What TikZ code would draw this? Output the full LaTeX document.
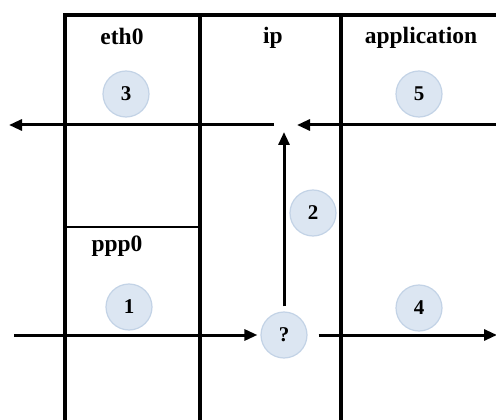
\documentclass[tikz,border=0pt]{standalone}
\usepackage{fontspec}
\setmainfont{Liberation Serif}
\usetikzlibrary{arrows.meta}
\definecolor{cfill}{HTML}{DCE6F2}
\definecolor{cline}{HTML}{C3D3E6}
\tikzset{
  frame/.style={line width=3.8pt},
  sep/.style={line width=2.2pt},
  arr/.style={line width=3pt,-{Triangle[length=13pt,width=11pt]}},
  num/.style={circle,fill=cfill,draw=cline,line width=1.2pt,minimum size=46pt,inner sep=0pt,font=\bfseries\fontsize{21}{23}\selectfont},
  lbl/.style={font=\bfseries\fontsize{23.5}{26}\selectfont,inner sep=0pt}
}
\begin{document}
\begin{tikzpicture}[x=1pt,y=-1pt]
\useasboundingbox (0,0) rectangle (496,420);
% frame
\draw[frame] (65,420) -- (65,15) -- (496,15);
\draw[frame] (200,15) -- (200,420);
\draw[frame] (341,15) -- (341,420);
\draw[sep] (65,227) -- (200,227);
% labels
\node[lbl] (leth) at (122,36) {eth0};
\node[lbl] (lip) at (273,38) {ip};
\node[lbl] (lapp) at (421,38) {application};
\node[lbl] (lppp) at (117,246) {ppp0};
% circles
\node[num] (c3) at (126,94) {3};
\node[num] (c5) at (419,94) {5};
\node[num] (c1) at (129,307) {1};
\node[num] (c4) at (419,308) {4};
\node[num] (c2) at (313,213) {2};
\node[num] (cq) at (284,335) {?};
% coordinates
\coordinate (j) at (284,125);
\coordinate (inL) at (14,335);
\coordinate (outR) at (497,335);
\coordinate (inR) at (496,125);
\coordinate (outL) at (9,125);
% arrows
\draw[arr] (inL) -- ([xshift=-3pt]cq.west);
\draw[arr] ([xshift=11pt]cq.east) -- (outR);
\draw[arr] ([yshift=5pt]cq.north) -- ([yshift=-7pt]j);
\draw[arr] (inR) -- ([xshift=13pt]j);
\draw[arr] ([xshift=-10pt]j) -- (outL);
\end{tikzpicture}
\end{document}
